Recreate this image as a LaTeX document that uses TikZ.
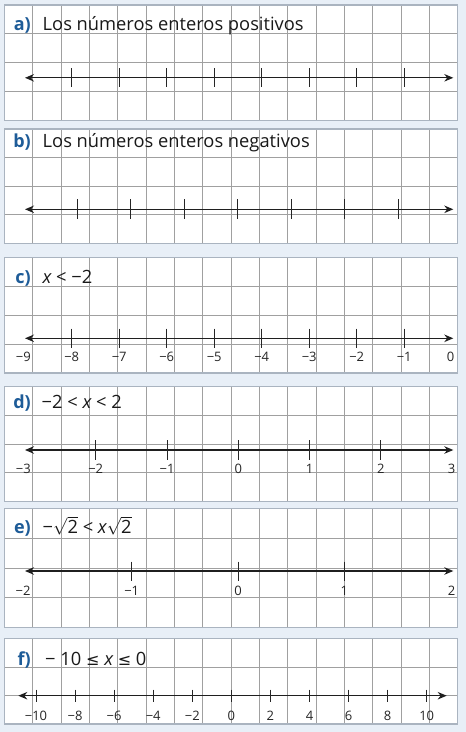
\documentclass[tikz,border=0pt]{standalone}
\usepackage{fontspec}
\setmainfont{Open Sans}
\newfontfamily\symf{DejaVu Sans}
\usetikzlibrary{arrows.meta}
\definecolor{bgblue}{RGB}{232,239,247}
\definecolor{gridgray}{RGB}{160,160,160}
\definecolor{panelborder}{RGB}{170,180,192}
\definecolor{labelblue}{RGB}{30,92,152}
\tikzset{
  gridline/.style={draw=gridgray, line width=0.9pt},
  panelframe/.style={draw=panelborder, line width=1.3pt},
  numline/.style={draw=black!88, line width=1.1pt, {Stealth[length=9pt,width=7.5pt]}-{Stealth[length=9pt,width=7.5pt]}},
  tickmark/.style={draw=black!85, line width=0.9pt},
  partlabel/.style={anchor=base east, inner sep=0pt, font=\fontsize{18}{22}\selectfont\bfseries, text=labelblue},
  titletext/.style={anchor=base west, inner sep=0pt, font=\fontsize{18.3}{22}\selectfont, text=black!90},
  numlab/.style={anchor=base, inner sep=0pt, font=\fontsize{13}{15}\selectfont, text=black!85},
}
% #1 top, #2 bottom, #3 number of rows
\newcommand\mypanel[3]{%
  \fill[white] (4.3,#1) rectangle (457.7,#2);
  \foreach \k in {1,...,15}{\draw[gridline] ({4.3+28.34*\k},#1) -- ({4.3+28.34*\k},#2);}
  \pgfmathsetmacro\rh{(#2-#1)/#3}
  \pgfmathtruncatemacro\rm{#3-1}
  \foreach \k in {1,...,\rm}{\draw[gridline] (4.3,{#1+\rh*\k}) -- (457.7,{#1+\rh*\k});}
  \draw[panelframe] (4.3,#1) rectangle (457.7,#2);
}
\begin{document}
\begin{tikzpicture}[x=1pt,y=-1pt]
\useasboundingbox (0,0) rectangle (466,732);
\fill[bgblue] (0,0) rectangle (466,732);

% ---------- panels ----------
\mypanel{5}{120.5}{4}
\mypanel{129}{243.5}{4}
\mypanel{257.5}{373}{4}
\mypanel{386.5}{501.5}{4}
\mypanel{508.5}{627.5}{4}
\mypanel{638.5}{724}{3}

% ---------- a ----------
\node[partlabel] (la) at (31,30.7) {a)};
\node[titletext] (ta) at (42.5,30.7) {Los números enteros positivos};
\coordinate (aL) at (25,77.8);
\coordinate (aR) at (453.3,77.8);
\draw[numline] (aL) -- (aR);
\foreach \i in {0,...,7}{\draw[tickmark] ({71.7+47.5*\i},68.3) -- ({71.7+47.5*\i},87.3);}

% ---------- b ----------
\node[partlabel] (lb) at (31,147.3) {b)};
\node[titletext] (tb) at (42.5,147.3) {Los números enteros negativos};
\coordinate (bL) at (25,209.3);
\coordinate (bR) at (453.3,209.3);
\draw[numline] (bL) -- (bR);
\foreach \i in {0,...,6}{\draw[tickmark] ({77.3+53.5*\i},199.3) -- ({77.3+53.5*\i},219.3);}

% ---------- c ----------
\node[partlabel] (lc) at (31,283.3) {c)};
\node[titletext] (tc) at (42.5,283.3) {\itshape x\upshape\ < −2};
\coordinate (cL) at (25,338.3);
\coordinate (cR) at (453.3,338.3);
\draw[numline] (cL) -- (cR);
\foreach \i in {0,...,7}{
  \pgfmathtruncatemacro\n{8-\i}
  \draw[tickmark] ({71.7+47.5*\i},328.5) -- ({71.7+47.5*\i},347.5);
  \node[numlab] (c\i) at ({71.7+47.5*\i},361) {−\n};
}
\node[numlab] (cm9) at (23.3,361) {−9};
\node[numlab] (c0end) at (450.7,361) {0};

% ---------- d ----------
\node[partlabel] (ld) at (31,408.3) {d)};
\node[titletext] (td) at (41.5,408.3) {−2 < \itshape x\upshape\ < 2};
\coordinate (dL) at (25,450);
\coordinate (dR) at (453.3,450);
\draw[numline] (dL) -- (dR);
\foreach \v [count=\i from 0] in {−2,−1,0,1,2}{
  \draw[tickmark] ({95.7+71.3*\i},440) -- ({95.7+71.3*\i},460);
  \node[numlab] (d\i) at ({95.7+71.3*\i},473) {\v};
}
\node[numlab] (dm3) at (23.3,473) {−3};
\node[numlab] (dp3) at (451.7,473) {3};

% ---------- e ----------
\node[partlabel] (le) at (31,533.3) {e)};
\node[titletext] (te) at (42.5,533.3) {−$\sqrt{\mbox{2}}$ < \itshape x\upshape$\sqrt{\mbox{2}}$};
\coordinate (eL) at (25,571);
\coordinate (eR) at (453.3,571);
\draw[numline] (eL) -- (eR);
\foreach \v [count=\i from 0] in {−1,0,1}{
  \draw[tickmark] ({131.7+106.3*\i},561.5) -- ({131.7+106.3*\i},580.5);
  \node[numlab] (e\i) at ({131.7+106.3*\i},595) {\v};
}
\node[numlab] (em2) at (23,595) {−2};
\node[numlab] (ep2) at (451.7,595) {2};

% ---------- f ----------
\node[partlabel] (lf) at (31,665) {f)};
\node[titletext] (tf) at (45,665) {− 10 {\symf\fontsize{16}{20}\selectfont ≤} \itshape x\upshape\ {\symf\fontsize{16}{20}\selectfont ≤} 0};
\coordinate (fL) at (18.3,695.7);
\coordinate (fR) at (446.7,695.7);
\draw[numline] (fL) -- (fR);
\foreach \v [count=\i from 0] in {−10,−8,−6,−4,−2,0,2,4,6,8,10}{
  \draw[tickmark] ({36+39.07*\i},689.7) -- ({36+39.07*\i},701.7);
  \node[numlab] (f\i) at ({36+39.07*\i},720) {\v};
}
\end{tikzpicture}
\end{document}
